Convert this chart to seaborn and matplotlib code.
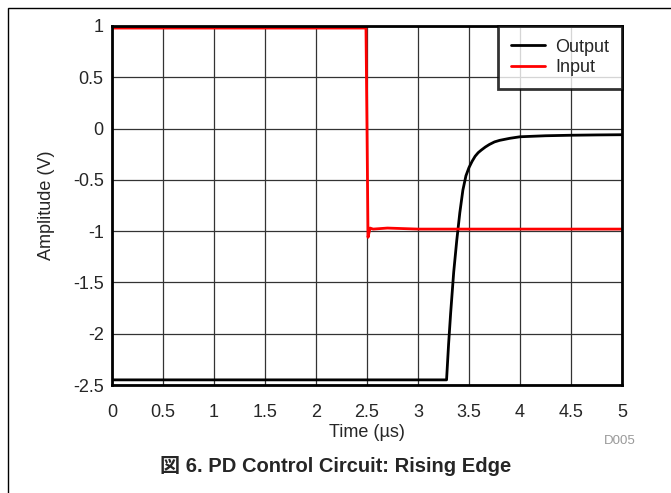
import numpy as np
import pandas as pd
import matplotlib.pyplot as plt
import seaborn as sns
from matplotlib.patches import Rectangle

sns.set_style("white")
plt.rcParams["font.family"] = ["Liberation Sans", "Noto Sans CJK JP", "DejaVu Sans"]

# data
out_t = [0, 1.0, 2.0, 3.0, 3.28, 3.30, 3.32, 3.35, 3.38, 3.41, 3.44, 3.47, 3.50, 3.53, 3.56, 3.59,
         3.62, 3.66, 3.70, 3.75, 3.80, 3.90, 4.0, 4.25, 4.5, 4.75, 5.0]
out_v = [-2.45, -2.45, -2.45, -2.45, -2.45, -2.1, -1.8, -1.4, -1.09, -0.82, -0.6, -0.46, -0.38, -0.32,
         -0.27, -0.235, -0.21, -0.18, -0.155, -0.13, -0.115, -0.095, -0.08, -0.07, -0.065, -0.062, -0.06]

in_t = [0, 2.49, 2.50, 2.51, 2.53, 2.56, 2.7, 3.0, 4.0, 5.0]
in_v = [0.98, 0.98, 0.0, -1.06, -0.97, -0.98, -0.97, -0.98, -0.98, -0.98]

df = pd.concat([
    pd.DataFrame({"t": out_t, "v": out_v, "sig": "Output"}),
    pd.DataFrame({"t": in_t, "v": in_v, "sig": "Input"}),
])

fig = plt.figure(figsize=(6.71, 4.93), dpi=100)
ax = fig.add_axes([112 / 671, 1 - 385 / 493, 510 / 671, 359 / 493])

sns.lineplot(
    data=df, x="t", y="v", hue="sig",
    palette={"Output": "black", "Input": "#ff0000"},
    sort=False, estimator=None, linewidth=2, ax=ax,
)

ax.set_xlim(0, 5)
ax.set_ylim(-2.5, 1)
ax.set_xticks(np.arange(0, 5.01, 0.5))
ax.set_xticklabels(["0", "0.5", "1", "1.5", "2", "2.5", "3", "3.5", "4", "4.5", "5"])
ax.set_yticks(np.arange(-2.5, 1.01, 0.5))
ax.set_yticklabels(["-2.5", "-2", "-1.5", "-1", "-0.5", "0", "0.5", "1"])
ax.tick_params(labelsize=13, length=0)
ax.tick_params(axis="x", pad=14)
ax.tick_params(axis="y", pad=6)
ax.grid(True, color="#333333", linewidth=0.9)
for s in ax.spines.values():
    s.set_color("black")
    s.set_linewidth(2)

ax.set_xlabel("Time (µs)", fontsize=13, labelpad=2)
ax.set_ylabel("Amplitude (V)", fontsize=13, labelpad=13)

leg = ax.legend(loc="upper right", fontsize=13, frameon=True, fancybox=False,
                borderaxespad=0, handlelength=1.9, handletextpad=0.55,
                borderpad=0.7, labelspacing=0.18, edgecolor="black")
leg.get_frame().set_linewidth(2)
leg.set_title(None)

fig.text(604 / 671, 1 - 441 / 493, "D005", fontsize=9.5, color="#999999",
         ha="left", va="center")
fig.text(0.5, 1 - 466 / 493, "図 6. PD Control Circuit: Rising Edge",
         fontsize=14.5, fontweight="bold", ha="center", va="center")

fig.patches.append(Rectangle((8 / 671, -0.1), 2, 1.1 - 8 / 493, transform=fig.transFigure,
                             fill=False, edgecolor="black", linewidth=1))

fig.savefig("out.png", dpi=100)
